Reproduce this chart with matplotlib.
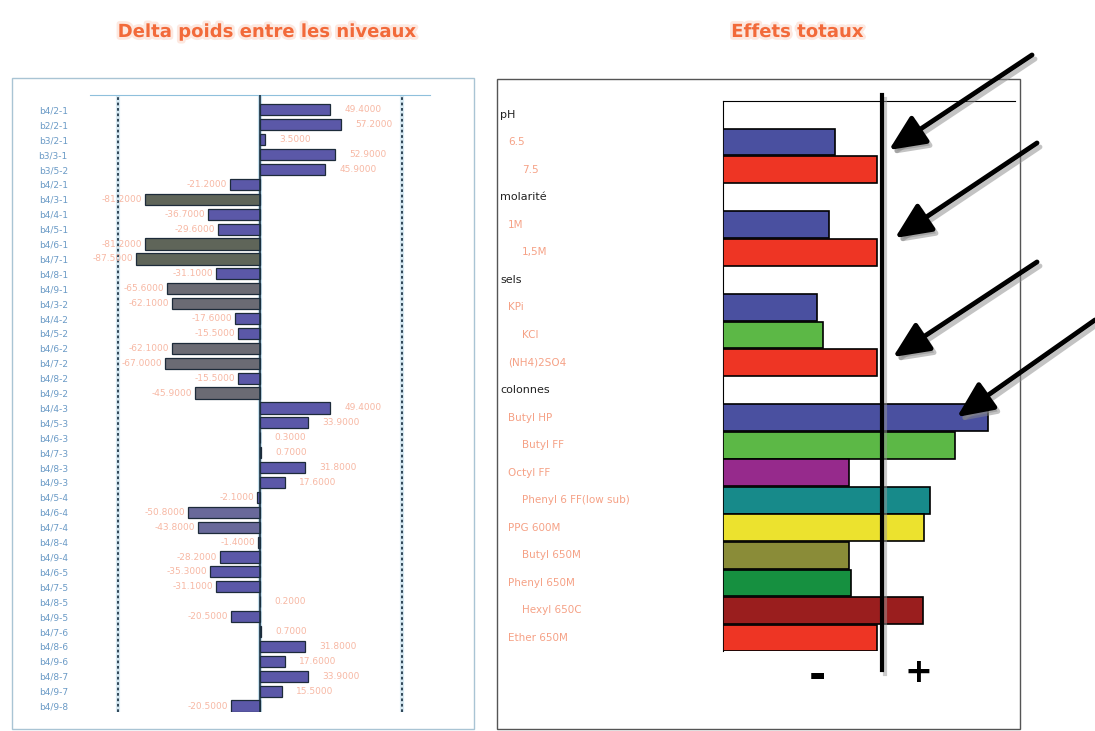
import numpy as np
import matplotlib
matplotlib.use("Agg")
import matplotlib.pyplot as plt
import matplotlib.patheffects as pe
from matplotlib.patches import Rectangle, FancyArrowPatch
from matplotlib.lines import Line2D
from matplotlib.transforms import blended_transform_factory

W, H = 1095, 731

# --- left chart: delta poids entre les niveaux ---
pairs = ["b4/2-1", "b2/2-1", "b3/2-1", "b3/3-1", "b3/5-2",
         "b4/2-1", "b4/3-1", "b4/4-1", "b4/5-1", "b4/6-1", "b4/7-1", "b4/8-1", "b4/9-1",
         "b4/3-2", "b4/4-2", "b4/5-2", "b4/6-2", "b4/7-2", "b4/8-2", "b4/9-2",
         "b4/4-3", "b4/5-3", "b4/6-3", "b4/7-3", "b4/8-3", "b4/9-3",
         "b4/5-4", "b4/6-4", "b4/7-4", "b4/8-4", "b4/9-4",
         "b4/6-5", "b4/7-5", "b4/8-5", "b4/9-5",
         "b4/7-6", "b4/8-6", "b4/9-6",
         "b4/8-7", "b4/9-7",
         "b4/9-8"]
delta = [49.4, 57.2, 3.5, 52.9, 45.9,
         -21.2, -81.2, -36.7, -29.6, -81.2, -87.5, -31.1, -65.6,
         -62.1, -17.6, -15.5, -62.1, -67.0, -15.5, -45.9,
         49.4, 33.9, 0.3, 0.7, 31.8, 17.6,
         -2.1, -50.8, -43.8, -1.4, -28.2,
         -35.3, -31.1, 0.2, -20.5,
         0.7, 31.8, 17.6,
         33.9, 15.5,
         -20.5]

# --- right chart: effets totaux ---
factors = ["pH", "molarité", "sels", "colonnes"]
levels = [["6.5", "7.5"],
          ["1M", "1,5M"],
          ["KPi", "KCl", "(NH4)2SO4"],
          ["Butyl HP", "Butyl FF", "Octyl FF", "Phenyl 6 FF(low sub)", "PPG 600M",
           "Butyl 650M", "Phenyl 650M", "Hexyl 650C", "Ether 650M"]]
effects = [[72.7, 100.0],
           [68.8, 100.0],
           [61.0, 64.9, 100.0],
           [172.1, 150.6, 81.8, 134.4, 130.5, 81.8, 83.1, 129.9, 100.0]]

# styles
purple, olive, grey, slate = "#5b58a8", "#5f6559", "#6b6b74", "#69699a"
left_colors = [purple] * len(delta)
for i in (6, 9, 10):
    left_colors[i] = olive
for i in (12, 13, 16, 17, 19):
    left_colors[i] = grey
for i in (27, 28):
    left_colors[i] = slate
level_colors = [["#4a50a0", "#ee3524"],
                ["#4a50a0", "#ee3524"],
                ["#4a50a0", "#5cb846", "#ee3524"],
                ["#4a50a0", "#5cb846", "#962a8c", "#178a8a", "#ece22e",
                 "#8a8c38", "#169040", "#9a1e1e", "#ee3524"]]


def fp(x, y):
    return (x / W, 1 - y / H)


fig = plt.figure(figsize=(W / 100, H / 100), dpi=100)
fig.patch.set_facecolor("white")

glow = [pe.withStroke(linewidth=4, foreground="#fde8e0")]
fig.text(*fp(266, 32), "Delta poids entre les niveaux", ha="center", va="center",
         color="#f26a3a", fontsize=13, fontweight="bold", path_effects=glow)
fig.text(*fp(797, 32), "Effets totaux", ha="center", va="center",
         color="#f26a3a", fontsize=13, fontweight="bold", path_effects=glow)

# panel frames
fig.add_artist(Rectangle(fp(12, 729), 462 / W, 651 / H, fill=False,
                         edgecolor="#a9c4d4", lw=1, transform=fig.transFigure))
fig.add_artist(Rectangle(fp(497, 729), 523 / W, 650 / H, fill=False,
                         edgecolor="#555555", lw=1, transform=fig.transFigure))

# left chart
ax1 = fig.add_axes([90 / W, 1 - 712 / H, 340 / W, 617 / H])
y1 = np.arange(len(delta))
ax1.barh(y1, delta, height=0.75, color=left_colors, edgecolor="#1d2b3a", lw=0.9, zorder=3)
ax1.set_xlim(-120, 120)
ax1.set_ylim(40.4, -1.0)
ax1.axvline(0, color="#8fc0dc", lw=3, alpha=0.5, zorder=1)
ax1.axvline(0, color="#1a3040", lw=1.2, zorder=4)
for xv in (-100, 100):
    ax1.axvline(xv, color="#8fc0dc", lw=3, alpha=0.35, zorder=1)
    ax1.axvline(xv, color="#22384a", lw=1.3, ls=(0, (1.5, 1.5)), zorder=2)
for yi, v in zip(y1, delta):
    if v >= 0:
        ax1.text(v + 10, yi, f"{v:.4f}", ha="left", va="center", fontsize=6.5, color="#f7b8a4")
    else:
        ax1.text(v - 2, yi, f"{v:.4f}", ha="right", va="center", fontsize=6.5, color="#f7b8a4")
for s in ("left", "right", "bottom"):
    ax1.spines[s].set_visible(False)
ax1.spines["top"].set_color("#8fc0dc")
ax1.set_xticks([])
ax1.set_yticks(y1)
ax1.set_yticklabels(pairs, fontsize=6.5, color="#6a9ac6")
ax1.tick_params(axis="y", length=0, pad=16)

# right chart
ax2 = fig.add_axes([723 / W, 1 - 651 / H, 292 / W, 550 / H])
trans = blended_transform_factory(fig.transFigure, ax2.transData)
row = 0
for fac, labs, vals, cols in zip(factors, levels, effects, level_colors):
    ax2.text(500 / W, row, fac, transform=trans, ha="left", va="center",
             fontsize=8, color="#222222")
    row += 1
    for k, (lab, v, c) in enumerate(zip(labs, vals, cols)):
        ax2.barh(row, v, height=0.97, color=c, edgecolor="black", lw=1.2, zorder=3)
        xl = 508 if k % 2 == 0 else 522
        ax2.text(xl / W, row, lab, transform=trans, ha="left", va="center",
                 fontsize=7.5, color="#f38a68", alpha=0.8)
        row += 1
ax2.set_xlim(0, 189.6)
ax2.set_ylim(19.47, -0.49)
ax2.spines["right"].set_visible(False)
ax2.spines["bottom"].set_visible(False)
ax2.set_xticks([])
ax2.set_yticks([])

# separating line with shadow
fig.add_artist(Line2D([885 / W, 885 / W], [1 - 99 / H, 1 - 674 / H], lw=3,
                      color="#999999", alpha=0.5, transform=fig.transFigure))
fig.add_artist(Line2D([882 / W, 882 / W], [1 - 95 / H, 1 - 670 / H], lw=3,
                      color="black", transform=fig.transFigure))
fig.text(*fp(817, 676), "-", ha="center", va="center", fontsize=30, fontweight="bold")
fig.text(*fp(918, 673), "+", ha="center", va="center", fontsize=24, fontweight="bold")

# arrows
arrows = [((1032, 55), (889, 150)), ((1037, 143), (895, 238)),
          ((1037, 262), (893, 357)), ((1095, 320), (957, 417))]
for tail, tip in arrows:
    for dx, dy, col, a in ((3, 4, "#888888", 0.5), (0, 0, "black", 1.0)):
        t = fp(tail[0] + dx, tail[1] + dy)
        h = fp(tip[0] + dx, tip[1] + dy)
        fig.add_artist(FancyArrowPatch(t, h, transform=fig.transFigure,
                                       arrowstyle="-|>,head_length=2.2,head_width=1.0",
                                       mutation_scale=10, lw=3.5, color=col, alpha=a,
                                       shrinkA=0, shrinkB=0))

fig.savefig("out.png", dpi=100)
